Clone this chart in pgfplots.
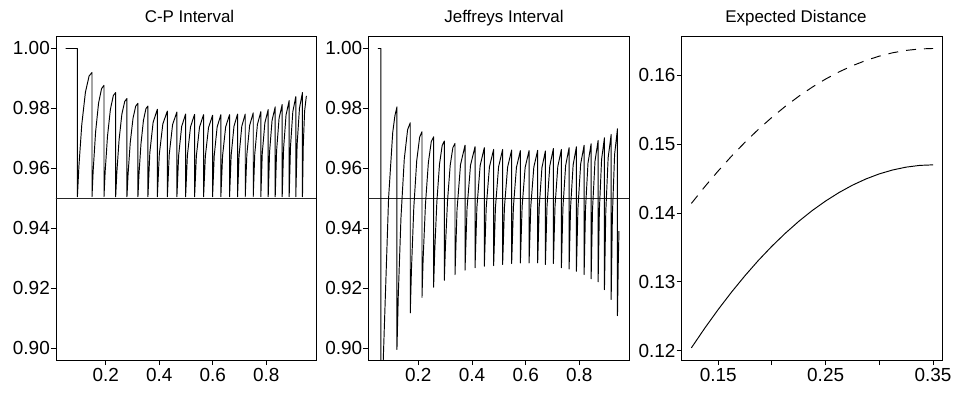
\documentclass[border=0pt]{standalone}
\usepackage{fontspec}
\setmainfont{Liberation Sans}
\usepackage{pgfplots}
\pgfplotsset{compat=1.18}
\begin{document}
\begin{tikzpicture}
\useasboundingbox (0,0) rectangle (955bp,394bp);
\pgfplotsset{
  rstyle/.style={
    scale only axis,
    height=323.5bp,
    anchor=south west,
    axis line style={black, line width=0.9bp},
    tick style={black, line width=0.9bp},
    tick align=outside,
    major tick length=5bp,
    xtick pos=left, ytick pos=left,
    ticklabel style={font=\fontsize{19}{22}\selectfont},
    yticklabel style={inner sep=1bp},
    xticklabel style={inner sep=3bp},
    every axis title/.style={at={(0.5,1)}, anchor=base, yshift=14bp, font=\fontsize{17}{20}\selectfont},
  },
  covstyle/.style={
    xmin=0.014, xmax=0.986, ymin=0.896, ymax=1.004,
    xtick={0.2,0.4,0.6,0.8}, xticklabels={0.2,0.4,0.6,0.8},
    ytick={0.90,0.92,0.94,0.96,0.98,1.00},
    yticklabels={0.90,0.92,0.94,0.96,0.98,1.00},
  },
  dl/.style={black, line width=0.95bp, mark=none, line join=round},
}
% ---------------- C-P Interval ----------------
\begin{axis}[rstyle, covstyle, at={(56bp,34bp)}, width=260bp,
  title={C-P Interval}, title style={xshift=3.5bp}]
\addplot[black!85, line width=1.3bp, mark=none] coordinates {(0,0.95) (1,0.95)};
\addplot[dl] table[row sep=\\] {
x y\\
0.0500 1.0000\\ 0.0940 1.0000\\ 0.0940 0.9505\\
0.0995 0.9605\\ 0.1104 0.9746\\ 0.1240 0.9854\\ 0.1377 0.9908\\ 0.1486 0.9920\\ 0.1486 0.9505\\
0.1531 0.9594\\ 0.1620 0.9721\\ 0.1732 0.9818\\ 0.1844 0.9866\\ 0.1934 0.9877\\ 0.1934 0.9505\\
0.1978 0.9589\\ 0.2065 0.9707\\ 0.2174 0.9797\\ 0.2284 0.9843\\ 0.2371 0.9853\\ 0.2371 0.9505\\
0.2413 0.9584\\ 0.2498 0.9695\\ 0.2603 0.9781\\ 0.2709 0.9823\\ 0.2793 0.9833\\ 0.2793 0.9505\\
0.2834 0.9580\\ 0.2916 0.9686\\ 0.3019 0.9767\\ 0.3122 0.9808\\ 0.3204 0.9817\\ 0.3204 0.9505\\
0.3241 0.9578\\ 0.3316 0.9681\\ 0.3409 0.9760\\ 0.3502 0.9799\\ 0.3577 0.9808\\ 0.3577 0.9505\\
0.3647 0.9651\\ 0.3770 0.9753\\ 0.3928 0.9797\\ 0.3928 0.9505\\
0.4003 0.9648\\ 0.4134 0.9748\\ 0.4302 0.9791\\ 0.4302 0.9505\\
0.4374 0.9647\\ 0.4499 0.9746\\ 0.4660 0.9788\\ 0.4660 0.9505\\
0.4725 0.9643\\ 0.4839 0.9740\\ 0.4985 0.9781\\ 0.4985 0.9505\\
0.5052 0.9643\\ 0.5170 0.9739\\ 0.5321 0.9780\\ 0.5321 0.9505\\
0.5388 0.9642\\ 0.5506 0.9738\\ 0.5657 0.9779\\ 0.5657 0.9505\\
0.5724 0.9641\\ 0.5842 0.9736\\ 0.5993 0.9777\\ 0.5993 0.9505\\
0.6055 0.9642\\ 0.6164 0.9738\\ 0.6303 0.9779\\ 0.6303 0.9505\\
0.6368 0.9642\\ 0.6482 0.9738\\ 0.6628 0.9779\\ 0.6628 0.9505\\
0.6688 0.9643\\ 0.6793 0.9740\\ 0.6927 0.9781\\ 0.6927 0.9505\\
0.6984 0.9643\\ 0.7085 0.9740\\ 0.7214 0.9781\\ 0.7214 0.9505\\
0.7274 0.9645\\ 0.7379 0.9743\\ 0.7513 0.9785\\ 0.7513 0.9505\\
0.7570 0.9647\\ 0.7669 0.9746\\ 0.7797 0.9789\\ 0.7797 0.9505\\
0.7852 0.9651\\ 0.7949 0.9752\\ 0.8073 0.9796\\ 0.8073 0.9505\\
0.8125 0.9655\\ 0.8217 0.9760\\ 0.8335 0.9805\\ 0.8335 0.9505\\
0.8387 0.9659\\ 0.8479 0.9767\\ 0.8596 0.9813\\ 0.8596 0.9505\\
0.8648 0.9666\\ 0.8740 0.9778\\ 0.8857 0.9826\\ 0.8857 0.9505\\
0.8906 0.9672\\ 0.8993 0.9789\\ 0.9104 0.9839\\ 0.9104 0.9505\\
0.9154 0.9679\\ 0.9242 0.9801\\ 0.9354 0.9853\\ 0.9354 0.9505\\
0.9383 0.9674\\ 0.9434 0.9791\\ 0.9500 0.9842\\
};
\end{axis}
% ---------------- Jeffreys Interval ----------------
\begin{axis}[rstyle, covstyle, at={(368.3bp,34bp)}, width=261bp,
  title={Jeffreys Interval}, title style={xshift=5.2bp}]
\addplot[black!85, line width=1.3bp, mark=none] coordinates {(0,0.95) (1,0.95)};
\addplot[dl] table[row sep=\\] {
x y\\
0.0500 1.0000\\ 0.0611 1.0000\\ 0.0611 0.8700\\
0.0697 0.8960\\ 0.0895 0.9500\\ 0.1050 0.9720\\ 0.1130 0.9775\\ 0.1207 0.9805\\ 0.1207 0.8995\\
0.1257 0.9177\\ 0.1356 0.9434\\ 0.1480 0.9631\\ 0.1604 0.9729\\ 0.1703 0.9752\\ 0.1703 0.9117\\
0.1747 0.9262\\ 0.1834 0.9468\\ 0.1943 0.9625\\ 0.2052 0.9704\\ 0.2139 0.9722\\ 0.2139 0.9169\\
0.2182 0.9298\\ 0.2269 0.9480\\ 0.2377 0.9619\\ 0.2485 0.9689\\ 0.2572 0.9705\\ 0.2572 0.9203\\
0.2612 0.9320\\ 0.2692 0.9486\\ 0.2791 0.9613\\ 0.2891 0.9676\\ 0.2971 0.9691\\ 0.2971 0.9226\\
0.3011 0.9336\\ 0.3090 0.9491\\ 0.3190 0.9610\\ 0.3289 0.9669\\ 0.3369 0.9683\\ 0.3369 0.9245\\
0.3444 0.9461\\ 0.3574 0.9612\\ 0.3742 0.9677\\ 0.3742 0.9260\\
0.3817 0.9466\\ 0.3947 0.9610\\ 0.4115 0.9672\\ 0.4115 0.9268\\
0.4184 0.9469\\ 0.4305 0.9609\\ 0.4461 0.9669\\ 0.4461 0.9273\\
0.4530 0.9468\\ 0.4652 0.9605\\ 0.4808 0.9663\\ 0.4808 0.9275\\
0.4875 0.9469\\ 0.4992 0.9605\\ 0.5143 0.9663\\ 0.5143 0.9279\\
0.5210 0.9470\\ 0.5328 0.9604\\ 0.5479 0.9661\\ 0.5479 0.9282\\
0.5544 0.9471\\ 0.5657 0.9603\\ 0.5803 0.9659\\ 0.5803 0.9284\\
0.5868 0.9472\\ 0.5981 0.9603\\ 0.6127 0.9659\\ 0.6127 0.9284\\
0.6191 0.9472\\ 0.6304 0.9604\\ 0.6448 0.9660\\ 0.6448 0.9284\\
0.6505 0.9471\\ 0.6606 0.9602\\ 0.6735 0.9658\\ 0.6735 0.9279\\
0.6795 0.9473\\ 0.6899 0.9608\\ 0.7033 0.9666\\ 0.7033 0.9282\\
0.7093 0.9473\\ 0.7197 0.9606\\ 0.7331 0.9663\\ 0.7331 0.9268\\
0.7388 0.9469\\ 0.7489 0.9609\\ 0.7618 0.9669\\ 0.7618 0.9264\\
0.7672 0.9468\\ 0.7768 0.9611\\ 0.7890 0.9672\\ 0.7890 0.9256\\
0.7947 0.9467\\ 0.8048 0.9614\\ 0.8177 0.9677\\ 0.8177 0.9245\\
0.8229 0.9464\\ 0.8321 0.9617\\ 0.8438 0.9682\\ 0.8438 0.9231\\
0.8490 0.9462\\ 0.8582 0.9624\\ 0.8699 0.9693\\ 0.8699 0.9221\\
0.8746 0.9462\\ 0.8828 0.9630\\ 0.8934 0.9702\\ 0.8934 0.9195\\
0.8984 0.9454\\ 0.9072 0.9635\\ 0.9184 0.9713\\ 0.9184 0.9162\\
0.9231 0.9447\\ 0.9313 0.9647\\ 0.9419 0.9732\\ 0.9419 0.9108\\
0.9450 0.9290\\ 0.9475 0.9390\\
};
\end{axis}
% ---------------- Expected Distance ----------------
\begin{axis}[rstyle, at={(681.7bp,34bp)}, width=261bp,
  title={Expected Distance}, title style={xshift=-16.2bp},
  xmin=0.116, xmax=0.359, ymin=0.11866, ymax=0.16564,
  xtick={0.15,0.20,0.25,0.30,0.35}, xticklabels={0.15,,0.25,,0.35},
  ytick={0.12,0.13,0.14,0.15,0.16}, yticklabels={0.12,0.13,0.14,0.15,0.16}]
\addplot[dl] table[row sep=\\] {
x y\\
0.1250 0.12042\\ 0.1375 0.12329\\ 0.1500 0.12600\\ 0.1625 0.12854\\
0.1750 0.13092\\ 0.1875 0.13314\\ 0.2000 0.13519\\ 0.2125 0.13707\\
0.2250 0.13880\\ 0.2375 0.14036\\ 0.2500 0.14175\\ 0.2625 0.14298\\
0.2750 0.14405\\ 0.2875 0.14495\\ 0.3000 0.14569\\ 0.3125 0.14626\\
0.3250 0.14667\\ 0.3375 0.14692\\ 0.3500 0.14700\\
};
\addplot[dl, dash pattern=on 10bp off 8bp] table[row sep=\\] {
x y\\
0.1250 0.14140\\ 0.1375 0.14383\\ 0.1500 0.14612\\ 0.1625 0.14828\\
0.1750 0.15029\\ 0.1875 0.15217\\ 0.2000 0.15390\\ 0.2125 0.15550\\
0.2250 0.15696\\ 0.2375 0.15828\\ 0.2500 0.15946\\ 0.2625 0.16050\\
0.2750 0.16140\\ 0.2875 0.16216\\ 0.3000 0.16279\\ 0.3125 0.16328\\
0.3250 0.16362\\ 0.3375 0.16383\\ 0.3500 0.16390\\
};
\end{axis}
\end{tikzpicture}
\end{document}
